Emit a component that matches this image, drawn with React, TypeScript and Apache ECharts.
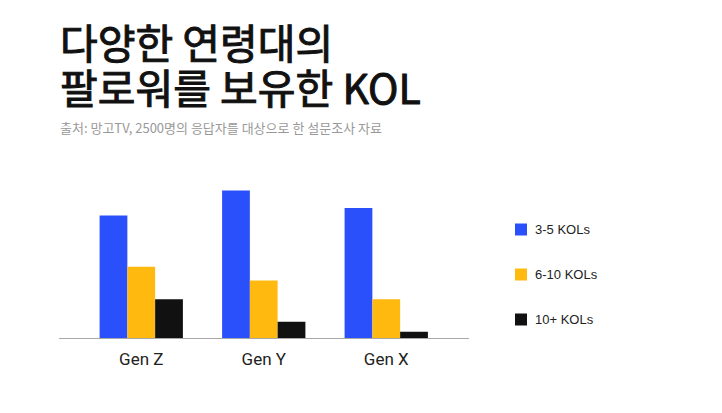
import React, { useEffect, useRef } from "react";
import * as echarts from "echarts";

const categories = ["Gen Z", "Gen Y", "Gen X"];
const seriesNames = ["3-5 KOLs", "6-10 KOLs", "10+ KOLs"];
const kol3to5 = [49, 59, 52];
const kol6to10 = [28.5, 23, 15.5];
const kol10plus = [15.5, 6.5, 2.5];
const colors = ["#2a50fb", "#ffb90f", "#111111"];
const titleLines = ["다양한 연령대의", "팔로워를 보유한 KOL"];
const sourceText = "출처: 망고TV, 2500명의 응답자를 대상으로 한 설문조사 자료";

export default function App() {
  const ref = useRef<HTMLDivElement>(null);
  useEffect(() => {
    if (!ref.current) return;
    const chart = echarts.init(ref.current, null, { renderer: "svg" });
    const font = "'Noto Sans CJK KR', 'Noto Sans', sans-serif";
    const values = [kol3to5, kol6to10, kol10plus];
    const titleStyle = {
      fontFamily: font,
      fontSize: 41,
      fontWeight: "normal",
      lineHeight: 42,
      color: "#111111",
      textBorderColor: "#111111",
      textBorderWidth: 1,
    };
    chart.setOption({
      animation: false,
      backgroundColor: "#ffffff",
      title: [
        { text: titleLines[0], left: 55, top: 15, textStyle: titleStyle },
        { text: titleLines[1], left: 55, top: 60, textStyle: titleStyle },
        {
          text: sourceText,
          left: 55,
          top: 116,
          textStyle: {
            fontFamily: font,
            fontSize: 13,
            fontWeight: "normal",
            color: "#999999",
          },
        },
      ],
      legend: {
        orient: "vertical",
        left: 510,
        top: 218,
        itemWidth: 12,
        itemHeight: 12,
        itemGap: 32,
        icon: "rect",
        data: seriesNames,
        textStyle: {
          fontFamily: "'Liberation Sans', Arial, sans-serif",
          fontSize: 13,
          color: "#222222",
          padding: [0, 0, 0, 3],
        },
      },
      grid: { left: 80, top: 188, width: 367.5, height: 150 },
      xAxis: {
        type: "category",
        data: categories,
        axisLine: { show: false },
        axisTick: { show: false },
        axisLabel: {
          fontFamily: "Roboto, 'Noto Sans', sans-serif",
          fontSize: 17,
          color: "#222222",
          margin: 12,
        },
      },
      yAxis: {
        type: "value",
        min: 0,
        max: 60,
        show: false,
        splitLine: { show: false },
      },
      graphic: [
        {
          type: "line",
          shape: { x1: 59, y1: 338.5, x2: 469, y2: 338.5 },
          style: { stroke: "#a8a8a8", lineWidth: 1 },
          z: 10,
        },
      ],
      series: seriesNames.map((name, i) => ({
        name,
        type: "bar",
        data: values[i],
        barGap: "0%",
        barCategoryGap: "32%",
        itemStyle: { color: colors[i] },
      })),
    });
    return () => chart.dispose();
  }, []);
  return (
    <div
      ref={ref}
      style={{ position: "fixed", left: 0, top: 0, width: 722, height: 413 }}
    />
  );
}
